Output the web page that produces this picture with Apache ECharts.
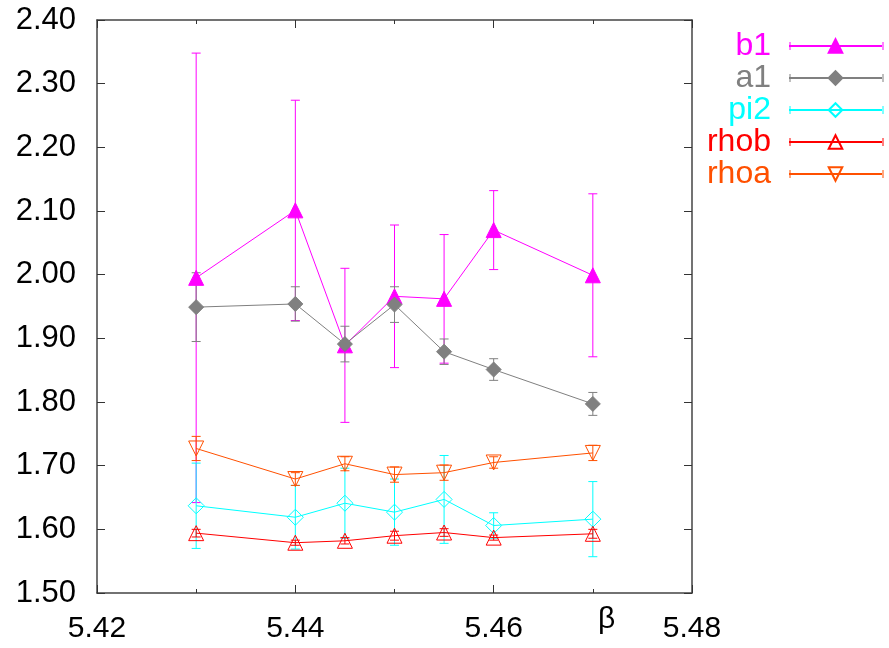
<!DOCTYPE html>
<html>
<head>
<meta charset="utf-8">
<script src="https://cdn.jsdelivr.net/npm/echarts@6/dist/echarts.min.js"></script>
<style>
html,body{margin:0;padding:0;background:#fff;}
#chart{width:889px;height:648px;}
</style>
</head>
<body>
<div id="chart"></div>
<script>
// beta values
var betas = [5.43, 5.44, 5.445, 5.45, 5.455, 5.46, 5.47];
// series values and errors
var b1 = [1.995, 2.101, 1.889, 1.966, 1.962, 2.070, 1.999];
var b1Err = [0.353, 0.173, 0.121, 0.112, 0.101, 0.062, 0.128];
var a1 = [1.949, 1.954, 1.891, 1.953, 1.879, 1.851, 1.797];
var a1Err = [0.054, 0.027, 0.028, 0.028, 0.020, 0.017, 0.018];
var pi2 = [1.637, 1.619, 1.641, 1.627, 1.647, 1.606, 1.616];
var pi2Err = [0.067, 0.050, 0.055, 0.052, 0.069, 0.020, 0.059];
var rhob = [1.594, 1.579, 1.582, 1.590, 1.595, 1.587, 1.593];
var rhobErr = [0.006, 0.004, 0.005, 0.007, 0.006, 0.004, 0.007];
var rhoa = [1.727, 1.679, 1.703, 1.686, 1.689, 1.705, 1.720];
var rhoaErr = [0.019, 0.010, 0.011, 0.012, 0.012, 0.009, 0.012];
// axis
var xMin = 5.42, xMax = 5.48, xStep = 0.02;
var yMin = 1.50, yMax = 2.40, yStep = 0.10;
var xName = 'β';

var FONT = '"Liberation Sans", Arial, sans-serif';
var defs = [
  {name: 'b1', vals: b1, errs: b1Err, color: '#ff00ff', symbol: 'triangle', size: 15, fill: '#ff00ff', rot: 0},
  {name: 'a1', vals: a1, errs: a1Err, color: '#808080', symbol: 'diamond', size: 15, fill: '#808080', rot: 0},
  {name: 'pi2', vals: pi2, errs: pi2Err, color: '#00ffff', symbol: 'diamond', size: 16, fill: 'transparent', rot: 0},
  {name: 'rhob', vals: rhob, errs: rhobErr, color: '#ff0000', symbol: 'triangle', size: 15, fill: 'transparent', rot: 0},
  {name: 'rhoa', vals: rhoa, errs: rhoaErr, color: '#ff5000', symbol: 'triangle', size: 15, fill: 'transparent', rot: 180}
];

function errRender(color) {
  return function (params, api) {
    var x = api.value(0), y = api.value(1), e = api.value(2);
    var t = api.coord([x, y + e]), b = api.coord([x, y - e]);
    var hw = 4.5;
    var st = {stroke: color, lineWidth: 1};
    return {type: 'group', children: [
      {type: 'line', shape: {x1: t[0], y1: t[1], x2: b[0], y2: b[1]}, style: st},
      {type: 'line', shape: {x1: t[0] - hw, y1: t[1], x2: t[0] + hw, y2: t[1]}, style: st},
      {type: 'line', shape: {x1: b[0] - hw, y1: b[1], x2: b[0] + hw, y2: b[1]}, style: st}
    ]};
  };
}

var series = [];
defs.forEach(function (d) {
  series.push({
    type: 'custom', name: d.name + '_err', silent: true,
    xAxisIndex: 0, yAxisIndex: 0,
    renderItem: errRender(d.color),
    encode: {x: 0, y: 1},
    data: betas.map(function (bx, i) { return [bx, d.vals[i], d.errs[i]]; })
  });
  series.push({
    type: 'line', name: d.name,
    xAxisIndex: 0, yAxisIndex: 0,
    data: betas.map(function (bx, i) { return [bx, d.vals[i]]; }),
    symbol: d.symbol, symbolSize: d.size, symbolRotate: d.rot,
    showSymbol: true, showAllSymbol: true,
    lineStyle: {color: d.color, width: 1},
    itemStyle: {color: d.fill, borderColor: d.color, borderWidth: 1},
    emphasis: {disabled: true}
  });
});

// legend error-bar caps
var LEG_TOP = 30, LEG_ROW = 32;
var legendGraphics = [];
defs.forEach(function (d, i) {
  var yy = LEG_TOP + 16 + i * LEG_ROW;
  [790, 883].forEach(function (xx) {
    legendGraphics.push({type: 'line', shape: {x1: xx, y1: yy - 4, x2: xx, y2: yy + 4}, style: {stroke: d.color, lineWidth: 1}, z: 100});
  });
});
legendGraphics.push({type: 'text', left: 598, top: 605, style: {text: xName, font: '30px ' + FONT, fill: '#000'}});

function axisCommon(extra) {
  var base = {
    type: 'value',
    axisLine: {show: true, onZero: false, lineStyle: {color: '#444', width: 1.5}},
    axisTick: {show: true, inside: true, length: 8, lineStyle: {color: '#333', width: 1}},
    splitLine: {show: false},
    minorTick: {show: false}
  };
  for (var k in extra) base[k] = extra[k];
  return base;
}

var option = {
  animation: false,
  backgroundColor: '#fff',
  grid: {left: 97, right: 197, top: 20, bottom: 55, show: false},
  xAxis: [
    axisCommon({min: xMin, max: xMax, interval: xStep, position: 'bottom',
      minorTick: {show: true, splitNumber: 2, length: 4, lineStyle: {color: '#333'}},
      axisLabel: {show: true, margin: 21, color: '#000', fontSize: 30, fontFamily: FONT,
        formatter: function (v) { return v.toFixed(2); }}}),
    axisCommon({min: xMin, max: xMax, interval: xStep, position: 'top',
      minorTick: {show: true, splitNumber: 2, length: 4, lineStyle: {color: '#333'}},
      axisLabel: {show: false}})
  ],
  yAxis: [
    axisCommon({min: yMin, max: yMax, interval: yStep, position: 'left',
      axisLabel: {show: true, margin: 21, color: '#000', fontSize: 31, fontFamily: FONT,
        formatter: function (v) { return v.toFixed(2); }}}),
    axisCommon({min: yMin, max: yMax, interval: yStep, position: 'right',
      axisLabel: {show: false}})
  ],
  legend: {
    orient: 'vertical', right: 6, top: LEG_TOP, align: 'right', padding: 0,
    itemWidth: 93, itemHeight: 17, itemGap: 0,
    data: defs.map(function (d) {
      return {name: d.name, textStyle: {color: d.color}};
    }),
    textStyle: {fontSize: 32, fontFamily: FONT, lineHeight: 32, padding: [0, 13, 0, 0]},
    selectedMode: false
  },
  graphic: legendGraphics,
  series: series
};

var chart = echarts.init(document.getElementById('chart'), null, {renderer: 'canvas'});
chart.setOption(option);
</script>
</body>
</html>
